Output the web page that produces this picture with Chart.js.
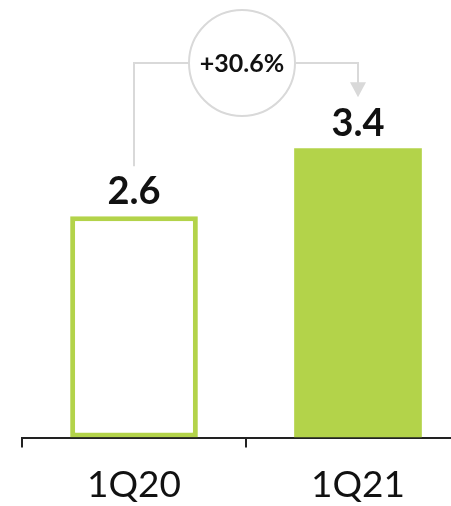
<!DOCTYPE html>
<html>
<head>
<meta charset="utf-8">
<script src="https://cdn.jsdelivr.net/npm/chart.js@4/dist/chart.umd.min.js"></script>
<style>
  html, body { margin: 0; padding: 0; background: #fff; overflow: hidden; }
  #wrap { width: 470px; height: 506px; }
</style>
</head>
<body>
<div id="wrap"><canvas id="revChart"></canvas></div>
<script>
const quarters = ['1Q20', '1Q21'];
const revenue = [2.6, 3.4];
const valueLabels = ['2.6', '3.4'];
const growthLabel = '+30.6%';

const green = '#b3d34a';
const grey = '#d9d9d9';

// value labels above the bars
const valueLabelPlugin = {
  id: 'valueLabels',
  afterDatasetsDraw(chart) {
    const ctx = chart.ctx;
    const bars = chart.getDatasetMeta(0).data;
    ctx.save();
    ctx.font = 'bold 38px Lato';
    ctx.fillStyle = '#111';
    ctx.textAlign = 'center';
    ctx.textBaseline = 'middle';
    bars.forEach((bar, i) => {
      ctx.fillText(valueLabels[i], bar.x, bar.y - 24);
    });
    ctx.restore();
  }
};

// growth connector with circle + arrow
const growthPlugin = {
  id: 'growth',
  afterDatasetsDraw(chart) {
    const ctx = chart.ctx;
    const bars = chart.getDatasetMeta(0).data;
    const x0 = bars[0].x, x1 = bars[1].x;
    const cx = (x0 + x1) / 2 - 4;
    const cy = 63;
    const r = 53;
    ctx.save();
    ctx.strokeStyle = grey;
    ctx.lineWidth = 2;
    ctx.beginPath();
    ctx.moveTo(x0, bars[0].y - 50);
    ctx.lineTo(x0, cy);
    ctx.lineTo(cx - r, cy);
    ctx.moveTo(cx + r, cy);
    ctx.lineTo(x1, cy);
    ctx.lineTo(x1, bars[1].y - 64);
    ctx.stroke();
    ctx.beginPath();
    ctx.arc(cx, cy, r, 0, Math.PI * 2);
    ctx.stroke();
    ctx.fillStyle = grey;
    ctx.beginPath();
    ctx.moveTo(x1 - 8, bars[1].y - 66);
    ctx.lineTo(x1 + 8, bars[1].y - 66);
    ctx.lineTo(x1, bars[1].y - 51);
    ctx.closePath();
    ctx.fill();
    ctx.font = 'bold 25px Lato';
    ctx.fillStyle = '#111';
    ctx.textAlign = 'center';
    ctx.textBaseline = 'middle';
    ctx.fillText(growthLabel, cx, cy + 1);
    ctx.restore();
  }
};

new Chart(document.getElementById('revChart'), {
  type: 'bar',
  data: {
    labels: quarters,
    datasets: [{
      data: revenue,
      backgroundColor: ['#ffffff', green],
      borderColor: green,
      borderWidth: [5, 0],
      borderSkipped: false,
      categoryPercentage: 1,
      barPercentage: 0.57
    }]
  },
  options: {
    responsive: true,
    maintainAspectRatio: false,
    animation: false,
    layout: { padding: { left: 22, right: 0, top: 0, bottom: -16 } },
    plugins: { legend: { display: false }, tooltip: { enabled: false } },
    scales: {
      x: {
        border: { display: true, color: '#222', width: 2 },
        grid: {
          offset: true,
          drawOnChartArea: false,
          drawTicks: true,
          tickLength: 10,
          color: '#222',
          lineWidth: 2
        },
        ticks: {
          color: '#111',
          padding: 15,
          font: { family: 'Lato', size: 37 }
        }
      },
      y: {
        display: false,
        min: 0,
        max: 5.14
      }
    }
  },
  plugins: [valueLabelPlugin, growthPlugin]
});
</script>
</body>
</html>
